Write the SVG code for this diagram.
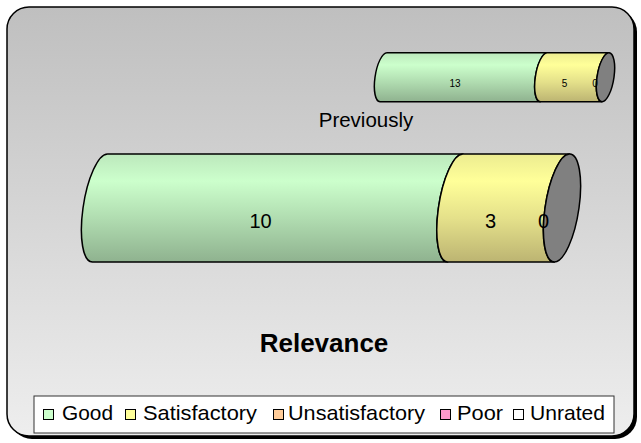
<svg xmlns="http://www.w3.org/2000/svg" width="641" height="443" viewBox="0 0 641 443">
<defs>
<linearGradient id="bg" x1="0" y1="0" x2="0" y2="1">
<stop offset="0" stop-color="#bfbfbf"/>
<stop offset="1" stop-color="#eeeeee"/>
</linearGradient>
<linearGradient id="gG" x1="0" y1="0" x2="0" y2="1">
<stop offset="0" stop-color="#bce8bc"/>
<stop offset="0.25" stop-color="#ccffcc"/>
<stop offset="0.6" stop-color="#b0dcb0"/>
<stop offset="1" stop-color="#8fb28f"/>
</linearGradient>
<linearGradient id="gY" x1="0" y1="0" x2="0" y2="1">
<stop offset="0" stop-color="#ecec90"/>
<stop offset="0.25" stop-color="#ffff99"/>
<stop offset="0.6" stop-color="#e4e08a"/>
<stop offset="1" stop-color="#bcb472"/>
</linearGradient>
<style>
.seg{stroke:#000;stroke-width:1.5;stroke-linejoin:round}
.cap{fill:#808080;stroke:#000;stroke-width:1.5}
.t{font-family:"Liberation Sans",Arial,sans-serif;fill:#000}
.sq{stroke:#000;stroke-width:1}
</style>
</defs>
<g id="frame">
<rect x="10" y="10" width="627" height="429" rx="22" fill="#000"/>
<rect x="7" y="7" width="627" height="429" rx="22" fill="url(#bg)" stroke="#000" stroke-width="1.5"/>
</g>
<g id="previous-bar">
<g transform="translate(0,77.2) skewX(-8)">
<path class="seg" fill="url(#gG)" d="M383.5,-24.5 H543.8 A8.5,24.5 0 0 0 543.8,24.5 H383.5 A8.5,24.5 0 0 1 383.5,-24.5 Z"/>
<path class="seg" fill="url(#gY)" d="M543.8,-24.5 H605.5 A8.5,24.5 0 0 0 605.5,24.5 H543.8 A8.5,24.5 0 0 1 543.8,-24.5 Z"/>
<ellipse class="cap" cx="605.5" cy="0" rx="8.5" ry="24.5"/>
</g>
<text class="t" x="455" y="86.5" font-size="10" text-anchor="middle">13</text>
<text class="t" x="564.5" y="86.5" font-size="10" text-anchor="middle">5</text>
<text class="t" x="595" y="86.5" font-size="10" text-anchor="middle">0</text>
<text class="t" x="366" y="127" font-size="20.5" text-anchor="middle">Previously</text>
</g>
<g id="current-bar">
<g transform="translate(0,208) skewX(-8)">
<path class="seg" fill="url(#gG)" d="M100,-54 H455.4 A17,54 0 0 0 455.4,54 H100 A17,54 0 0 1 100,-54 Z"/>
<path class="seg" fill="url(#gY)" d="M455.4,-54 H562 A17,54 0 0 0 562,54 H455.4 A17,54 0 0 1 455.4,-54 Z"/>
<ellipse class="cap" cx="562" cy="0" rx="17" ry="54"/>
</g>
<text class="t" x="260.5" y="228" font-size="20" text-anchor="middle">10</text>
<text class="t" x="490.5" y="228" font-size="20" text-anchor="middle">3</text>
<text class="t" x="543.5" y="228" font-size="20" text-anchor="middle">0</text>
</g>
<g id="title">
<text class="t" x="324" y="352" font-size="26" font-weight="bold" text-anchor="middle">Relevance</text>
</g>
<g id="legend">
<rect x="34" y="396" width="580" height="37" fill="#fff" stroke="#333" stroke-width="1"/>
<rect class="sq" x="43.5" y="409.5" width="10" height="10" fill="#ccffcc"/>
<text class="t" x="62" y="419.5" font-size="21" textLength="51" lengthAdjust="spacingAndGlyphs">Good</text>
<rect class="sq" x="125.5" y="409.5" width="10" height="10" fill="#ffff99"/>
<text class="t" x="143" y="419.5" font-size="21" textLength="114" lengthAdjust="spacingAndGlyphs">Satisfactory</text>
<rect class="sq" x="273.5" y="409.5" width="10" height="10" fill="#ffcc99"/>
<text class="t" x="288" y="419.5" font-size="21" textLength="137" lengthAdjust="spacingAndGlyphs">Unsatisfactory</text>
<rect class="sq" x="440.5" y="409.5" width="10" height="10" fill="#ff99cc"/>
<text class="t" x="457" y="419.5" font-size="21" textLength="46" lengthAdjust="spacingAndGlyphs">Poor</text>
<rect class="sq" x="513.5" y="409.5" width="10" height="10" fill="#ffffff"/>
<text class="t" x="530" y="419.5" font-size="21" textLength="75" lengthAdjust="spacingAndGlyphs">Unrated</text>
</g>
<g id="connectors"/>
</svg>
